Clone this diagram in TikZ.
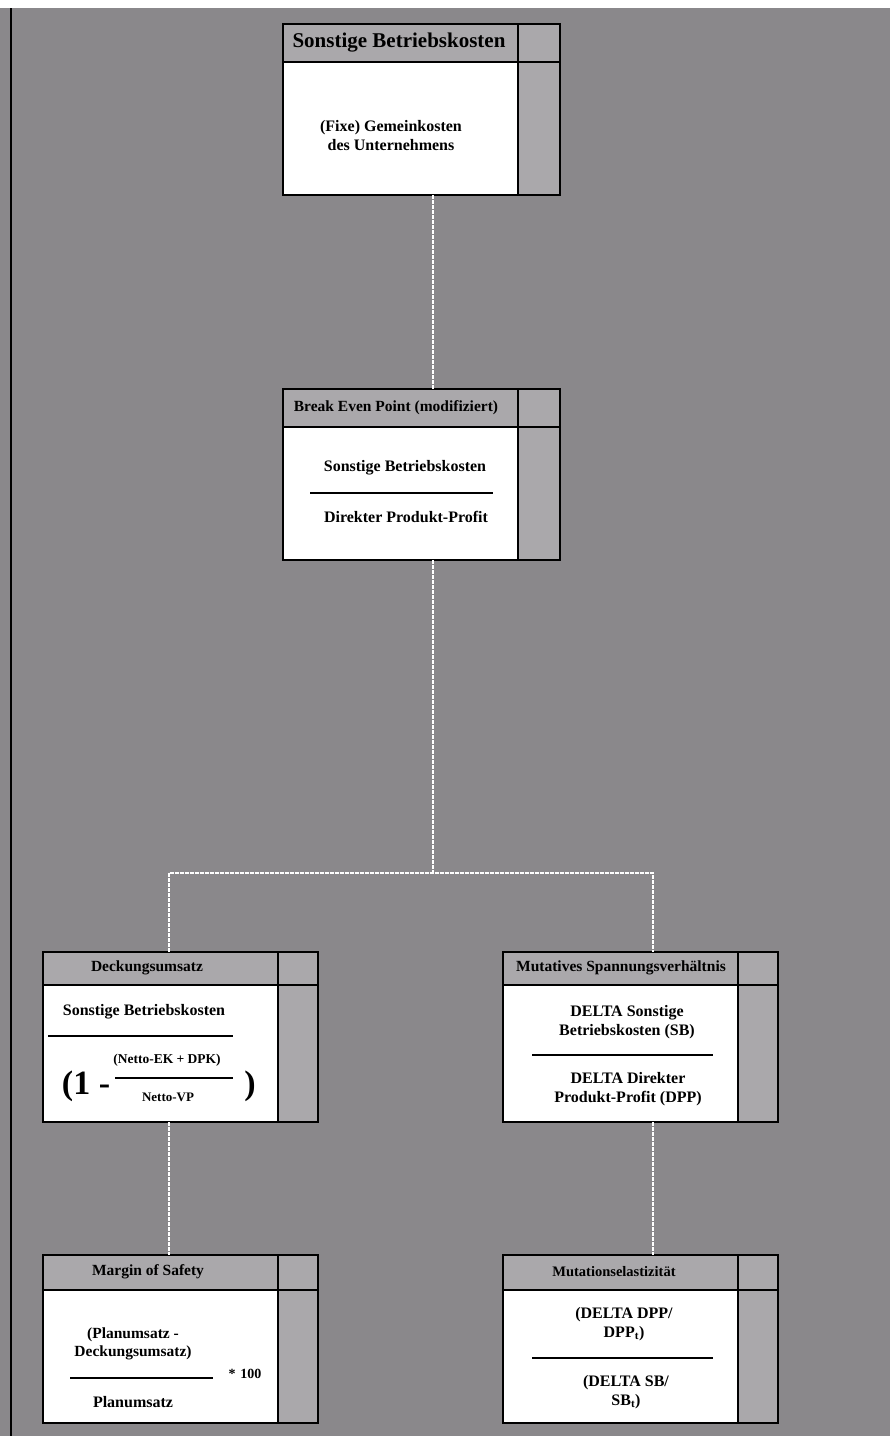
\documentclass[tikz,border=0pt]{standalone}
\usepackage{fontspec}
\setmainfont{Liberation Serif}
\usetikzlibrary{fit}
\definecolor{sheet}{HTML}{8A888B}
\definecolor{panel}{HTML}{AAA8AB}
\newcommand\fs[2]{\bfseries\fontsize{#1}{#2}\selectfont}
\tikzset{
  frame/.style={draw=black, line width=2pt, inner sep=0pt, outer sep=0pt},
  rule/.style={draw=black, line width=1.8pt},
  fracline/.style={draw=black, line width=1.9pt},
  link/.style={draw=white, line width=2pt, dash pattern=on 4pt off 1pt},
  ttl/.style={font=\fs{15.5}{17}, inner sep=0pt},
  txt/.style={font=\fs{16}{19}, inner sep=0pt, align=center},
  small/.style={font=\fs{13.5}{15}, inner sep=0pt},
}
% box: name, x1, y1, x2, y2, y of title rule, x of side column
\newcommand\diabox[7]{%
  \fill[panel] (#2,#3) rectangle (#4,#5);
  \fill[white] (#2,#6) rectangle (#7,#5);
  \draw[rule] (#2,#6) -- (#4,#6);
  \draw[rule] (#7,#3) -- (#7,#5);
  \node[frame, fit={(#2,#3) (#4,#5)}] (#1) {};
}
\begin{document}
\begin{tikzpicture}[x=1pt, y=-1pt]
\useasboundingbox (0,0) rectangle (890,1436);
% sheet
\fill[sheet] (0,0) rectangle (890,1436);
\fill[white] (0,0) rectangle (890,8);
\draw[black, line width=2pt] (11,8) -- (11,1436);

% boxes
\diabox{b1}{283}{24}{560}{195}{62}{518}
\diabox{b2}{283}{389}{560}{560}{427}{518}
\diabox{b3}{43}{952}{318}{1122}{985}{278}
\diabox{b4}{503}{952}{778}{1122}{985}{738}
\diabox{b5}{43}{1255}{318}{1423}{1290}{278}
\diabox{b6}{503}{1255}{778}{1423}{1290}{738}

% titles
\node[ttl, font=\fs{21}{23}] (t1) at (399,43) {Sonstige Betriebskosten};
\node[ttl] (t2) at (396,408) {Break Even Point (modifiziert)};
\node[ttl] (t3) at (147,968) {Deckungsumsatz};
\node[ttl] (t4) at (621,968) {Mutatives Spannungsverhältnis};
\node[ttl] (t5) at (148,1272) {Margin of Safety};
\node[ttl, font=\fs{14.5}{16}] (t6) at (614,1272) {Mutationselastizität};

% box 1
\node[txt] (c1) at (391,136) {(Fixe) Gemeinkosten\\des Unternehmens};

% box 2
\node[txt] (c2a) at (405,468) {Sonstige Betriebskosten};
\draw[fracline] (310,493) -- (493,493);
\node[txt] (c2b) at (406,517) {Direkter Produkt-Profit};

% box 3
\node[txt] (c3a) at (144,1012) {Sonstige Betriebskosten};
\draw[fracline] (48,1036) -- (233,1036);
\node[small] (c3b) at (167,1060) {(Netto-EK + DPK)};
\draw[fracline, line width=1.5pt] (115,1078) -- (233,1078);
\node[small, font=\fs{13}{14}] (c3c) at (168,1097) {Netto-VP};
\node[inner sep=0pt, font=\fs{34}{36}] (c3d) at (86,1086) {(1 -};
\node[inner sep=0pt, font=\fs{34}{36}] (c3e) at (250,1086) {)};

% box 4
\node[txt] (c4a) at (627,1022) {DELTA Sonstige\\Betriebskosten (SB)};
\draw[fracline] (532,1055) -- (713,1055);
\node[txt] (c4b) at (628,1089) {DELTA Direkter\\Produkt-Profit (DPP)};

% box 5
\node[txt, font=\fs{15.5}{18}] (c5a) at (133,1344) {(Planumsatz -\\Deckungsumsatz)};
\draw[fracline] (70,1378) -- (213,1378);
\node[small, font=\fs{14}{15}] (c5b) at (245,1374) {*\hspace{5pt}100};
\node[txt] (c5c) at (133,1402) {Planumsatz};

% box 6
\node[txt] (c6a) at (624,1324) {(DELTA DPP/\\DPP\textsubscript{t})};
\draw[fracline] (532,1358) -- (713,1358);
\node[txt] (c6b) at (626,1392) {(DELTA SB/\\SB\textsubscript{t})};

% connectors
\coordinate (p1) at ([xshift=11pt]b1.south);
\coordinate (p2in) at ([xshift=11pt]b2.north);
\coordinate (p2out) at ([xshift=11pt]b2.south);
\coordinate (p3in) at ([xshift=-12pt]b3.north);
\coordinate (p3out) at ([xshift=-12pt]b3.south);
\coordinate (p4in) at ([xshift=12pt]b4.north);
\coordinate (p4out) at ([xshift=12pt]b4.south);
\coordinate (p5in) at ([xshift=-12pt]b5.north);
\coordinate (p6in) at ([xshift=12pt]b6.north);
\coordinate (j) at (432.5,873);
\draw[link] (p1) -- (p2in);
\draw[link] (p2out) -- (j);
\draw[link] (p3in) |- (j) -| (p4in);
\draw[link] (p3out) -- (p5in);
\draw[link] (p4out) -- (p6in);
\end{tikzpicture}
\end{document}
